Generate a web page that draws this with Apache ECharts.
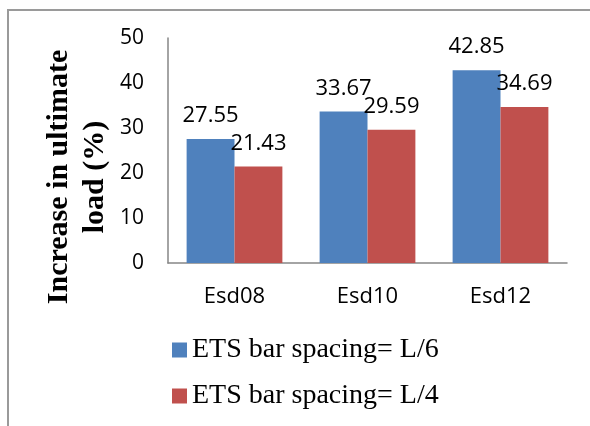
<!DOCTYPE html>
<html>
<head>
<meta charset="utf-8">
<script src="https://cdn.jsdelivr.net/npm/echarts@6/dist/echarts.min.js"></script>
<style>
html,body{margin:0;padding:0;background:#fff;}
#chart{width:590px;height:426px;}
</style>
</head>
<body>
<div id="chart"></div>
<script>
const categories = ['Esd08', 'Esd10', 'Esd12'];
const seriesL6 = [27.55, 33.67, 42.85];
const seriesL4 = [21.43, 29.59, 34.69];
const seriesNames = ['ETS bar spacing= L/6', 'ETS bar spacing= L/4'];
const yTitle = 'Increase in ultimate\nload (%)';

const chart = echarts.init(document.getElementById('chart'), null, {renderer: 'canvas'});
const numFont = {fontFamily: 'Open Sans', fontSize: 21, color: '#000'};
const labelCfg = {
  show: true, position: 'top', distance: 12,
  fontFamily: 'Open Sans', fontSize: 22, color: '#000',
  formatter: p => p.value.toFixed(2)
};
chart.setOption({
  animation: false,
  backgroundColor: '#fff',
  graphic: [
    {type: 'rect', shape: {x: 8, y: 10, width: 700, height: 600},
     style: {fill: 'none', stroke: '#9a9a9a', lineWidth: 2}, z: -1},
    {type: 'text', x: 77, y: 177, rotation: Math.PI / 2,
     style: {text: yTitle, fontFamily: 'Liberation Serif', fontWeight: 'bold', fontSize: 30,
             lineHeight: 36, fill: '#000', align: 'center', verticalAlign: 'middle'}}
  ],
  legend: {
    orient: 'vertical', left: 172, top: 336, padding: 0,
    itemWidth: 15, itemHeight: 15, itemGap: 18, icon: 'rect',
    textStyle: {fontFamily: 'Liberation Serif', fontSize: 28, color: '#000', padding: [2, 0, 0, 0]},
    data: seriesNames
  },
  grid: {left: 168, top: 38, right: 23, bottom: 163, containLabel: false},
  xAxis: {
    type: 'category', data: categories,
    axisLine: {lineStyle: {color: '#868686', width: 1.5}},
    axisTick: {show: false},
    axisLabel: {fontFamily: 'Open Sans', fontSize: 22, color: '#000', margin: 23}
  },
  yAxis: {
    type: 'value', min: 0, max: 50, interval: 10,
    axisLine: {show: true, lineStyle: {color: '#868686', width: 1.5}},
    axisTick: {show: false},
    splitLine: {show: false},
    axisLabel: Object.assign({margin: 24}, numFont)
  },
  series: [
    {name: seriesNames[0], type: 'bar', data: seriesL6, barGap: '0%', barCategoryGap: '28%',
     itemStyle: {color: '#4F81BD'}, label: labelCfg},
    {name: seriesNames[1], type: 'bar', data: seriesL4, barGap: '0%', barCategoryGap: '28%',
     itemStyle: {color: '#C0504D'}, label: labelCfg}
  ]
});
</script>
</body>
</html>
